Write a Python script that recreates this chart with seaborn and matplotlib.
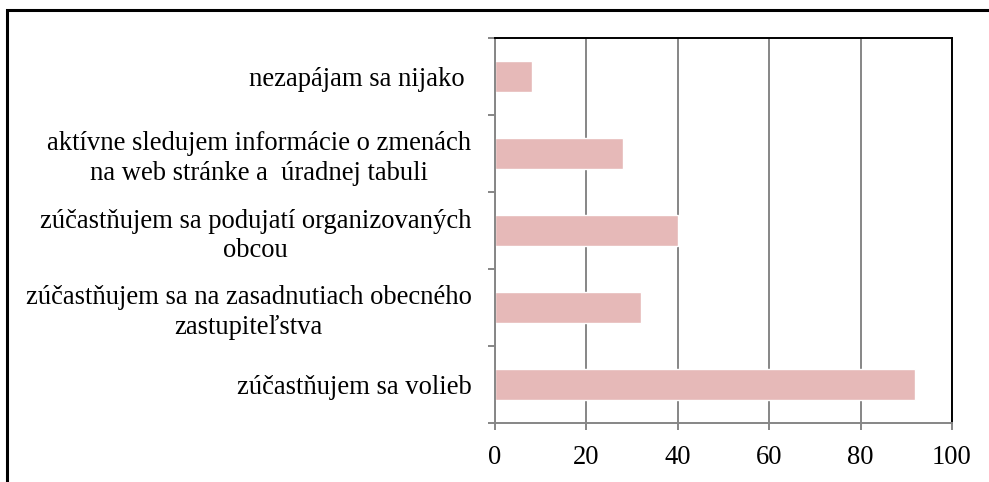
import matplotlib
matplotlib.use("Agg")
import matplotlib.pyplot as plt
import seaborn as sns
import pandas as pd
from matplotlib.patches import Rectangle

# Data
categories = [
    "nezapájam sa nijako ",
    "aktívne sledujem informácie o zmenách\nna web stránke a  úradnej tabuli",
    "zúčastňujem sa podujatí organizovaných\nobcou",
    "zúčastňujem sa na zasadnutiach obecného\nzastupiteľstva",
    "zúčastňujem sa volieb",
]
values = [8, 28, 40, 32, 92]
xticks = [0, 20, 40, 60, 80, 100]

df = pd.DataFrame({"category": categories, "value": values})

sns.set_style("white")
plt.rcParams["font.family"] = ["Liberation Serif", "DejaVu Serif"]

fig = plt.figure(figsize=(9.89, 4.82), dpi=100)
ax = fig.add_axes([495 / 989, 1 - 423 / 482, (952 - 495) / 989, (423 - 38) / 482])

sns.barplot(data=df, x="value", y="category", orient="h", color="#E6B9B8",
            saturation=1, width=0.4, ax=ax)

ax.set_xlim(0, 100)
ax.set_ylim(len(categories) - 0.5, -0.5)
ax.set_xticks(xticks)
ax.set_xlabel("")
ax.set_ylabel("")

# vertical gridlines
ax.grid(axis="x", color="#868686", linewidth=1.4)
ax.set_axisbelow(True)

# spines
for s in ["left", "bottom"]:
    ax.spines[s].set_color("#868686")
    ax.spines[s].set_linewidth(1.4)
for s in ["top", "right"]:
    ax.spines[s].set_color("black")
    ax.spines[s].set_linewidth(1.4)

# tick marks on category boundaries
ax.set_yticks([i - 0.5 for i in range(len(categories) + 1)], minor=True)
ax.tick_params(axis="y", which="major", left=True, length=0, pad=17,
               labelsize=19.2, labelcolor="black")
ax.tick_params(axis="y", which="minor", left=True, length=5, width=1.4,
               color="#868686")
ax.tick_params(axis="x", which="major", bottom=True, length=5, width=1.4,
               color="#868686", pad=11, labelsize=19.2, labelcolor="black")
for t in ax.get_yticklabels():
    t.set_multialignment("center")
    t.set_linespacing(1.25)

# outer chart border
fig.patches.append(Rectangle((7 / 989, -0.05), 1.2, 1 - 10 / 482 + 0.05,
                             transform=fig.transFigure, fill=False,
                             edgecolor="black", linewidth=2.2))

fig.savefig("out.png", dpi=100)
